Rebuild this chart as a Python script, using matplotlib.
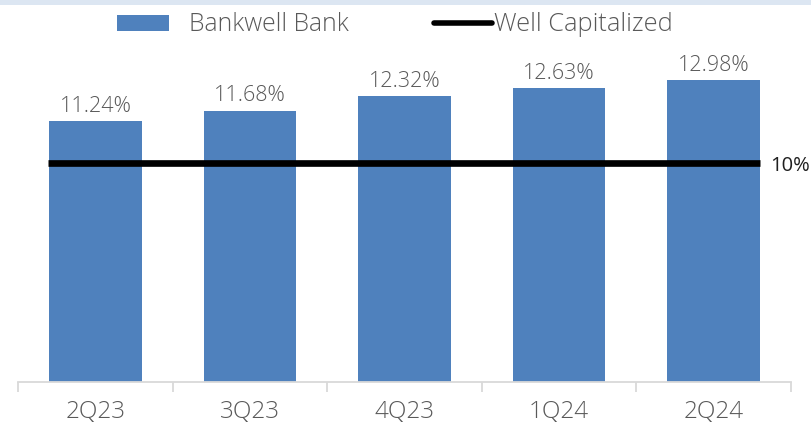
import matplotlib
matplotlib.use("Agg")
import matplotlib.pyplot as plt
import numpy as np
from matplotlib.patches import Rectangle
from matplotlib.lines import Line2D

# Data
quarters = ["2Q23", "3Q23", "4Q23", "1Q24", "2Q24"]
bank_ratio = [11.24, 11.68, 12.32, 12.63, 12.98]
well_capitalized = 10.0

plt.rcParams["font.family"] = ["Open Sans", "DejaVu Sans"]
LIGHT = "light"

BAR_COLOR = "#4F81BD"
TEXT_GRAY = "#595959"
AXIS_GRAY = "#D9D9D9"

W, H, DPI = 811, 424, 100
fig = plt.figure(figsize=(W / DPI, H / DPI), dpi=DPI)
fig.patch.set_facecolor("white")

# thin header band
fig.patches.append(Rectangle((0, 1 - 4.5 / H), 1, 4.5 / H, transform=fig.transFigure,
                             facecolor="#DCE6F2", edgecolor="none", zorder=0))

left_px, right_px = 18.3, 790.5
bottom_px, top_px = 382.3, 10.0
ax = fig.add_axes([left_px / W, (H - bottom_px) / H,
                   (right_px - left_px) / W, (bottom_px - top_px) / H])

x = np.arange(len(quarters))
bar_w = 0.6
ax.bar(x, bank_ratio, width=bar_w, color=BAR_COLOR, zorder=2)
ax.set_xlim(-0.5, len(quarters) - 0.5)
ax.set_ylim(0, 16)

for xi, v in zip(x, bank_ratio):
    ax.annotate(f"{v:.2f}%", (xi, v), xytext=(0, 6.5), textcoords="offset points",
                ha="center", va="baseline", fontsize=15.5, color=TEXT_GRAY,
                fontweight=LIGHT)

# secondary scale for the regulatory threshold line
ax2 = ax.twinx()
ax2.set_ylim(0, 17)
x_lo, x_hi = x[0] - bar_w / 2 - 0.01, x[-1] + bar_w / 2
ax2.hlines(well_capitalized, x_lo, x_hi, color="black", linewidth=4.8, zorder=3)
ax2.annotate(f"{well_capitalized:.0f}%", (x_hi, well_capitalized),
             xytext=(7.5, -5.2), textcoords="offset points", ha="left", va="baseline",
             fontsize=14.5, color="#1F1F1F", annotation_clip=False)
ax2.set_yticks([])
for s in ax2.spines.values():
    s.set_visible(False)

# axes styling
for name, s in ax.spines.items():
    s.set_visible(name == "bottom")
ax.spines["bottom"].set_color(AXIS_GRAY)
ax.spines["bottom"].set_linewidth(1.3)
ax.set_yticks([])
ax.set_xticks(x)
ax.set_xticklabels(quarters, fontsize=17.5, color=TEXT_GRAY, fontweight=LIGHT)
ax.tick_params(axis="x", which="major", length=0, pad=12.5)
ax.set_xticks(np.arange(-0.5, len(quarters)), minor=True)
ax.tick_params(axis="x", which="minor", length=7, width=1.3, color=AXIS_GRAY, direction="out")

# legend
def px(xp, yp):
    return xp / W, 1 - yp / H

fig.patches.append(Rectangle(px(116.7, 30.7), (169 - 116.7) / W, 15.7 / H,
                             transform=fig.transFigure, facecolor=BAR_COLOR,
                             edgecolor="none"))
fig.text(*px(189, 30.7), "Bankwell Bank", ha="left", va="baseline", fontsize=17.8,
         color=TEXT_GRAY, fontweight=LIGHT)
fig.lines.append(Line2D([434 / W, 492 / W], [1 - 22.7 / H] * 2, transform=fig.transFigure,
                        color="black", linewidth=4, solid_capstyle="round"))
fig.text(*px(494, 30.7), "Well Capitalized", ha="left", va="baseline", fontsize=18.3,
         color=TEXT_GRAY, fontweight=LIGHT)

fig.savefig("out.png", dpi=DPI)
